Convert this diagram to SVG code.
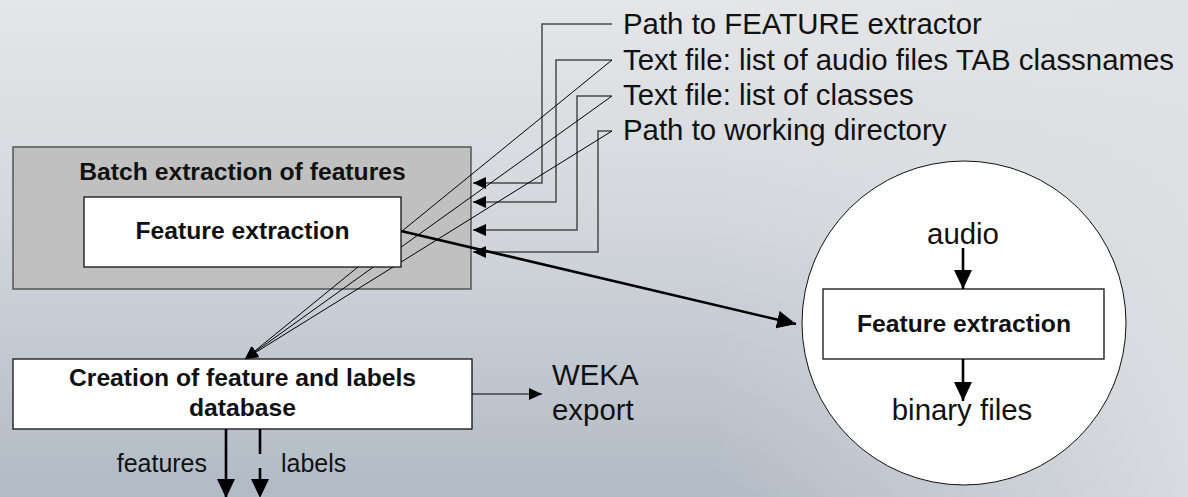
<svg xmlns="http://www.w3.org/2000/svg" width="1188" height="497" viewBox="0 0 1188 497">
  <defs>
    <linearGradient id="bgV" x1="0" y1="0" x2="0" y2="1">
      <stop offset="0" stop-color="#e5e6e8"/>
      <stop offset="0.45" stop-color="#d3d7dc"/>
      <stop offset="1" stop-color="#b1bac5"/>
    </linearGradient>
    <linearGradient id="bgH" x1="0" y1="0" x2="1" y2="0">
      <stop offset="0" stop-color="#dfe1e4" stop-opacity="0"/>
      <stop offset="0.6" stop-color="#dfe1e4" stop-opacity="0"/>
      <stop offset="1" stop-color="#dfe1e4" stop-opacity="0.85"/>
    </linearGradient>
    <marker id="arrowSm" markerUnits="userSpaceOnUse" markerWidth="13" markerHeight="12" refX="13" refY="6" orient="auto">
      <path d="M0,0 L13,6 L0,12 Z" fill="#000"/>
    </marker>
    <marker id="arrowLg" markerUnits="userSpaceOnUse" markerWidth="19" markerHeight="18" refX="19" refY="9" orient="auto">
      <path d="M0,0 L19,9 L0,18 Z" fill="#000"/>
    </marker>
    <style>
      .lbl { font-family: "Liberation Sans", Arial, sans-serif; font-size: 29.4px; fill: #111; }
      .small { font-family: "Liberation Sans", Arial, sans-serif; font-size: 25px; fill: #111; }
      .bold { font-family: "Liberation Sans", Arial, sans-serif; font-size: 24.7px; font-weight: bold; fill: #111; text-anchor: middle; }
      .box { fill: #fff; stroke: #111; stroke-width: 1.3; }
      .outer { fill: #c0c0c0; stroke: #555; stroke-width: 1.5; }
      .elbow { fill: none; stroke: #4a4a4a; stroke-width: 1.5; marker-end: url(#arrowSm); }
      .thin { fill: none; stroke: #000; stroke-width: 1; marker-end: url(#arrowSm); }
      .thick { fill: none; stroke: #000; stroke-width: 2.6; marker-end: url(#arrowLg); }
    </style>
  </defs>

  <!-- background -->
  <rect x="0" y="0" width="1188" height="497" fill="url(#bgV)"/>
  <rect x="0" y="0" width="1188" height="497" fill="url(#bgH)"/>

  <!-- batch container -->
  <g id="batch-extraction">
    <rect class="outer" x="13" y="147" width="458" height="142"/>
    <text class="bold" x="242.5" y="180">Batch extraction of features</text>
  </g>

  <!-- database creation -->
  <g id="database-creation">
    <rect class="box" x="13" y="359" width="459" height="70"/>
    <text class="bold" x="242.5" y="386">Creation of feature and labels</text>
    <text class="bold" x="242.5" y="416">database</text>
  </g>

  <!-- input labels -->
  <g id="input-feature-path">
    <text class="lbl" x="623" y="33.5">Path to FEATURE extractor</text>
  </g>
  <g id="input-audio-list">
    <text class="lbl" x="623" y="69.5">Text file: list of audio files TAB classnames</text>
  </g>
  <g id="input-class-list">
    <text class="lbl" x="623" y="104.5">Text file: list of classes</text>
  </g>
  <g id="input-workdir">
    <text class="lbl" x="623" y="139.5">Path to working directory</text>
  </g>

  <!-- WEKA export -->
  <g id="weka-export">
    <text class="lbl" x="552" y="385">WEKA</text>
    <text class="lbl" x="552" y="420">export</text>
  </g>

  <!-- feature/label outputs -->
  <g id="outputs">
    <text class="small" x="116.7" y="472">features</text>
    <text class="small" x="281" y="472">labels</text>
  </g>

  <!-- detail view of one extraction -->
  <g id="extraction-detail">
    <circle cx="964" cy="323" r="162" fill="#fff" stroke="#111" stroke-width="1"/>
    <text class="lbl" x="963" y="244" text-anchor="middle">audio</text>
    <rect class="box" x="823" y="289" width="281" height="70"/>
    <text class="bold" x="964" y="332">Feature extraction</text>
    <text class="lbl" x="962" y="420" text-anchor="middle">binary files</text>
  </g>

  <!-- connectors -->
  <g id="connectors">
    <path class="elbow" d="M612,24 H542 V183 H473"/>
    <path class="elbow" d="M612,60 H556 V202 H473"/>
    <path class="elbow" d="M612,96 H577 V230 H473"/>
    <path class="elbow" d="M612,131 H598 V252 H473"/>
    <path class="thin" d="M612,60 L245,359"/>
    <path class="thin" d="M612,96 L245,359"/>
    <path class="thin" d="M612,131 L245,359"/>
    <path class="thick" d="M401,231 L796,324"/>
    <path class="thin" d="M472,394 H542"/>
    <path class="thick" d="M226,429 V498"/>
    <path class="thick" d="M260,429 V498" stroke-dasharray="25 14"/>
    <path class="thick" d="M963,248 V289"/>
    <path class="thick" d="M963,359 V401"/>
  </g>

  <!-- single extraction step, nested in the batch box -->
  <g id="feature-extraction">
    <rect class="box" x="84" y="197" width="317" height="70"/>
    <text class="bold" x="242.5" y="239">Feature extraction</text>
  </g>
</svg>
